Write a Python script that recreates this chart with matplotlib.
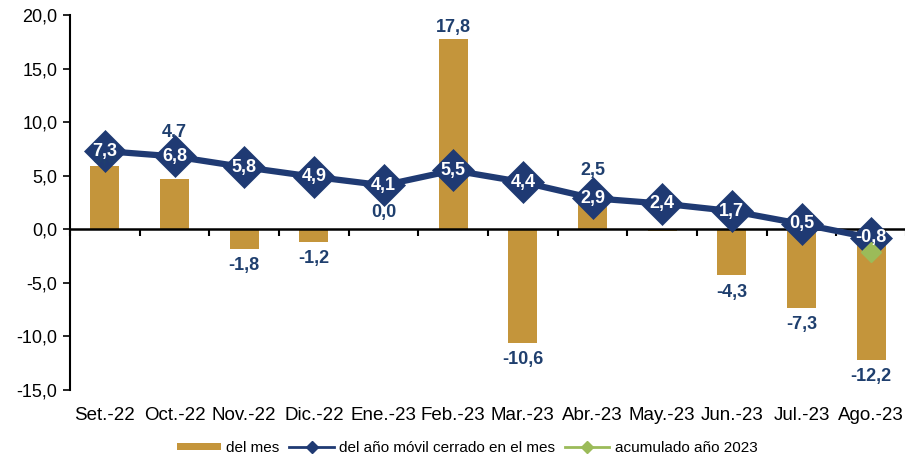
import matplotlib
matplotlib.use("Agg")
import matplotlib.pyplot as plt
import matplotlib.transforms as mtransforms
from matplotlib.lines import Line2D
from matplotlib.patches import Patch
import numpy as np

plt.rcParams['font.family'] = ['Liberation Sans', 'DejaVu Sans']

categories = ["Set.-22", "Oct.-22", "Nov.-22", "Dic.-22", "Ene.-23", "Feb.-23",
              "Mar.-23", "Abr.-23", "May.-23", "Jun.-23", "Jul.-23", "Ago.-23"]
del_mes = [5.9, 4.7, -1.8, -1.2, -0.04, 17.8, -10.6, 2.5, -0.2, -4.3, -7.3, -12.2]
anio_movil = [7.3, 6.8, 5.8, 4.9, 4.1, 5.5, 4.4, 2.9, 2.4, 1.7, 0.5, -0.8]
acumulado = [None] * 11 + [-2.1]
yticks = [-15, -10, -5, 0, 5, 10, 15, 20]

BAR = "#C4953B"
NAVY = "#1F3A73"
LBL = "#1F3F6E"
GREEN = "#9BBB59"

def fmt(v):
    s = f"{v:.1f}".replace(".", ",")
    if s == "-0,0":
        s = "0,0"
    return s

fig = plt.figure(figsize=(9.05, 4.57), dpi=100)
ax = fig.add_axes([70/905, (457-390)/457, 836/905, (390-15)/457])

x = np.arange(len(categories))
ax.bar(x, del_mes, width=0.42, color=BAR, zorder=2)

# bar label offsets (points) to reproduce the reference label placement
offsets = {0: -1, 1: 27, 4: 6, 5: 2, 7: 17}
for xi, v in zip(x, del_mes):
    if xi == 8:
        continue
    if v >= 0 or xi == 4:
        ax.annotate(fmt(v), (xi, max(v, 0)), xytext=(0, offsets.get(xi, 2)),
                    textcoords="offset points", ha="center", va="bottom",
                    color=LBL, fontsize=13, fontweight="bold",
                    zorder=4.5 if xi == 0 else 3.5)
    else:
        ax.annotate(fmt(v), (xi, v), xytext=(0, -6), textcoords="offset points",
                    ha="center", va="top", color=LBL, fontsize=13,
                    fontweight="bold", zorder=5)

ax.plot(x, anio_movil, color=NAVY, lw=4.5, zorder=3, solid_capstyle="round")
ax.plot(x, anio_movil, ls="none", marker="D", ms=21, color=NAVY,
        markeredgecolor=NAVY, markeredgewidth=0.5, zorder=4)
for xi, v in zip(x, anio_movil):
    ax.text(xi, v, fmt(v), ha="center", va="center", color="white",
            fontsize=13, fontweight="bold", zorder=6)

acc_x = [xi for xi, v in zip(x, acumulado) if v is not None]
acc_v = [v for v in acumulado if v is not None]
ax.plot(acc_x, acc_v, ls="none", marker="D", ms=10, color=GREEN, zorder=5)

ax.set_xlim(-0.5, len(categories) - 0.5)
ax.set_ylim(-15, 20)
ax.set_yticks(yticks)
ax.set_yticklabels([fmt(t) for t in yticks], fontsize=13)
ax.tick_params(axis="y", direction="out", length=5, width=1.2, pad=4)

ax.spines["top"].set_visible(False)
ax.spines["right"].set_visible(False)
ax.spines["left"].set_linewidth(1.5)
ax.spines["bottom"].set_position(("data", 0))
ax.spines["bottom"].set_linewidth(1.8)
ax.spines["bottom"].set_zorder(2.5)
ax.set_xticks(np.arange(-0.5, len(categories), 1.0))
ax.set_xticklabels([])
ax.tick_params(axis="x", direction="out", length=5, width=1.5)

trans = mtransforms.blended_transform_factory(ax.transData, ax.transAxes)
for xi, c in zip(x, categories):
    ax.text(xi, -0.045, c, transform=trans, ha="center", va="top", fontsize=13.5)

handles = [Patch(facecolor=BAR, edgecolor="none"),
           Line2D([0], [0], color=NAVY, lw=2, marker="D", ms=6),
           Line2D([0], [0], color=GREEN, lw=2, marker="D", ms=6)]
labels = ["del mes", "del año móvil cerrado en el mes", "acumulado año 2023"]
fig.legend(handles, labels, loc="center", bbox_to_anchor=(467/905, 1 - 448/457),
           ncol=3, frameon=False, fontsize=11, handlelength=2.9, handleheight=0.4,
           columnspacing=0.65, handletextpad=0.35)

fig.savefig("out.png", dpi=100)
